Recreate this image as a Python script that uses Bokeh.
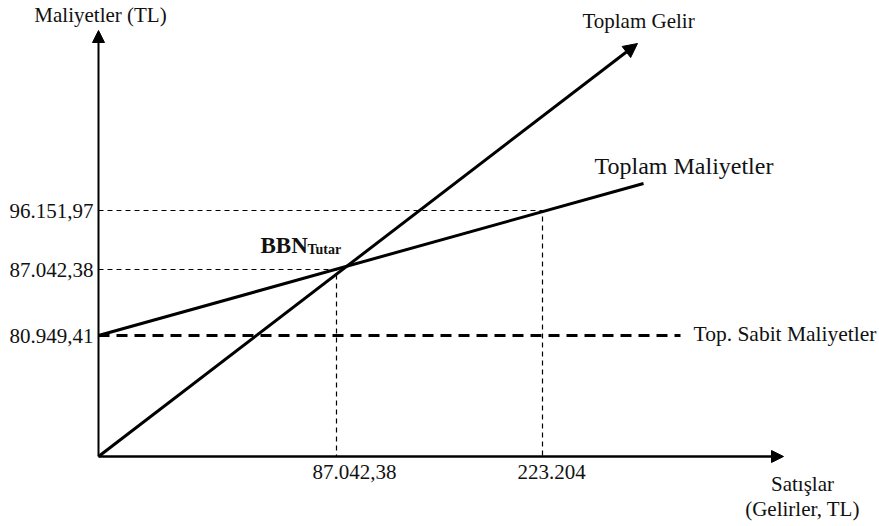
from bokeh.plotting import figure
from bokeh.models import Range1d, ColumnDataSource, Arrow, NormalHead
from bokeh.core.properties import value
from bokeh.embed import file_html
from bokeh.resources import INLINE

# Schematic (not-to-scale) break-even diagram: positions in diagram units
sales_pos = [238, 444]
sales_labels = ["87.042,38", "223.204"]
cost_pos = [121, 187, 246]
cost_labels = ["80.949,41", "87.042,38", "96.151,97"]

revenue_x = [0, 539]
revenue_y = [0, 413]
total_cost_x = [0, 545]
total_cost_y = [121, 273]
fixed_cost_x = [0, 582]
fixed_cost_y = [121, 121]

axis_x_end = 685
axis_y_end = 426

be_x = sales_pos[0]
be_y = cost_pos[1]

FONT = value("Liberation Serif")

p = figure(width=879, height=526, output_backend="svg", toolbar_location=None,
           x_axis_type=None, y_axis_type=None, min_border=0,
           x_range=Range1d(-98, 781), y_range=Range1d(-70, 456))
p.outline_line_color = None
p.grid.visible = False
p.background_fill_color = "white"

# guide dashed lines
p.line([0, be_x, be_x], [be_y, be_y, 0], line_color="black", line_width=1.2, line_dash="5 4")
p.line([0, sales_pos[1], sales_pos[1]], [cost_pos[2], cost_pos[2], 0], line_color="black",
       line_width=1.2, line_dash="5 4")

# fixed costs
p.line(fixed_cost_x, fixed_cost_y, line_color="black", line_width=3, line_dash="11 7")
# total costs
p.line(total_cost_x, total_cost_y, line_color="black", line_width=3)
# total revenue with arrow
p.add_layout(Arrow(end=NormalHead(size=14, fill_color="black", line_color="black"),
                   x_start=revenue_x[0], y_start=revenue_y[0],
                   x_end=revenue_x[1], y_end=revenue_y[1],
                   line_width=3, line_color="black"))

# axes with arrows
p.add_layout(Arrow(end=NormalHead(size=12, fill_color="black", line_color="black"),
                   x_start=0, y_start=0, x_end=0, y_end=axis_y_end,
                   line_width=2, line_color="black"))
p.add_layout(Arrow(end=NormalHead(size=12, fill_color="black", line_color="black"),
                   x_start=0, y_start=0, x_end=axis_x_end, y_end=0,
                   line_width=2.5, line_color="black"))

# tick labels
ysrc = ColumnDataSource(dict(x=[-5] * len(cost_pos), y=cost_pos, t=cost_labels))
p.text("x", "y", text="t", source=ysrc, text_font=FONT, text_font_size="21px",
       text_align="right", text_baseline="middle", text_color="#111111")
xsrc = ColumnDataSource(dict(x=sales_pos, y=[-15] * len(sales_pos), t=sales_labels, dx=[18, 9]))
p.text("x", "y", text="t", source=xsrc, x_offset="dx", text_font=FONT, text_font_size="21px",
       text_align="center", text_baseline="middle", text_color="#111111")

# titles / series labels
def label(x, y, t, align="center", size="21px", style="normal"):
    p.text(x=[x], y=[y], text=[t], text_font=FONT, text_font_size=size, text_align=align,
           text_baseline="middle", text_color="#111111", text_font_style=style)

label(2, 442, "Maliyetler (TL)")
label(540, 436, "Toplam Gelir")
label(496, 291, "Toplam Maliyetler", align="left", size="24px")
label(595, 123, "Top. Sabit Maliyetler", align="left", size="21.5px")
label(704, -27, "Satışlar")
label(704, -52, "(Gelirler, TL)")

# break-even label
p.text(x=[162], y=[211], text=["BBN"], text_font=FONT, text_font_size="23px",
       text_align="left", text_baseline="middle", text_color="#111111", text_font_style="bold")
p.text(x=[209], y=[207], text=["Tutar"], text_font=FONT, text_font_size="14px",
       text_align="left", text_baseline="middle", text_color="#111111", text_font_style="bold")

open("out.html", "w").write(file_html(p, INLINE))
